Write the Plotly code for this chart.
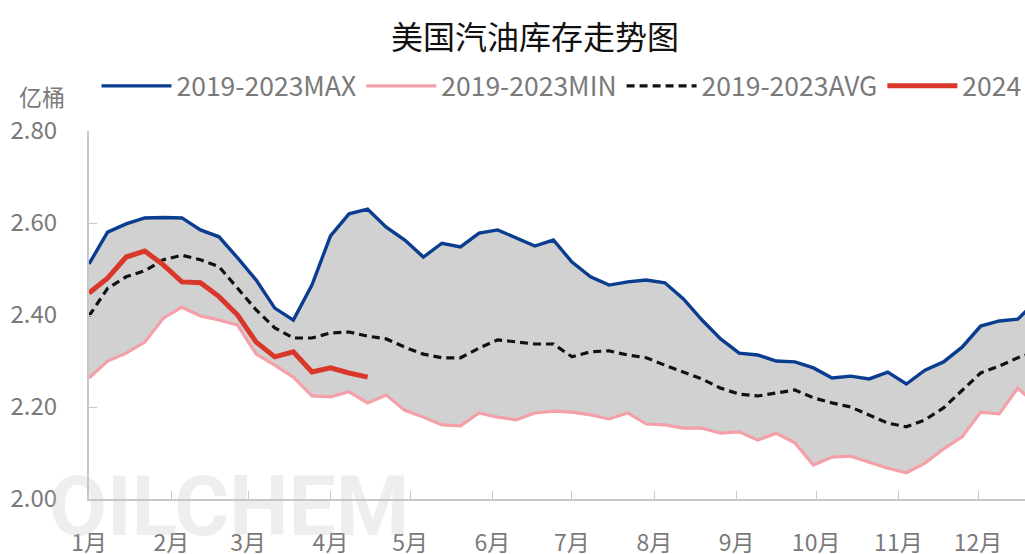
import pandas as pd
import plotly.graph_objects as go

# weekly values, 亿桶
week_start = "2024-01-01"
n_weeks = 52

max_5y = [2.511, 2.580, 2.598, 2.611, 2.612, 2.611, 2.585, 2.570, 2.524, 2.476,
          2.415, 2.389, 2.465, 2.572, 2.620, 2.630, 2.591, 2.563, 2.526, 2.556,
          2.548, 2.578, 2.585, 2.567, 2.550, 2.563, 2.515, 2.483, 2.465, 2.472,
          2.476, 2.470, 2.435, 2.389, 2.348, 2.317, 2.313, 2.300, 2.298, 2.285,
          2.263, 2.267, 2.261, 2.276, 2.250, 2.280, 2.298, 2.330, 2.376, 2.387,
          2.391, 2.430]

min_5y = [2.263, 2.300, 2.317, 2.341, 2.393, 2.417, 2.398, 2.389, 2.378, 2.315,
          2.291, 2.265, 2.224, 2.222, 2.233, 2.209, 2.226, 2.193, 2.178, 2.161,
          2.159, 2.187, 2.178, 2.172, 2.187, 2.191, 2.189, 2.183, 2.174, 2.187,
          2.163, 2.161, 2.154, 2.154, 2.143, 2.146, 2.128, 2.143, 2.122, 2.074,
          2.091, 2.093, 2.080, 2.067, 2.057, 2.078, 2.109, 2.135, 2.189, 2.185,
          2.241, 2.205]

avg_5y = [2.398, 2.458, 2.483, 2.496, 2.520, 2.530, 2.520, 2.505, 2.458, 2.411,
          2.372, 2.350, 2.350, 2.361, 2.363, 2.354, 2.348, 2.330, 2.315, 2.307,
          2.307, 2.328, 2.346, 2.341, 2.337, 2.337, 2.309, 2.320, 2.322, 2.313,
          2.307, 2.291, 2.276, 2.261, 2.241, 2.228, 2.224, 2.230, 2.237, 2.220,
          2.209, 2.200, 2.183, 2.165, 2.157, 2.172, 2.198, 2.237, 2.274, 2.289,
          2.307, 2.320]

y2024 = [2.448, 2.480, 2.526, 2.539, 2.509, 2.472, 2.470, 2.440, 2.400, 2.341,
         2.309, 2.320, 2.276, 2.285, 2.274, 2.265]

month_labels = [f"{m}月" for m in range(1, 13)]
y_ticks = [2.00, 2.20, 2.40, 2.60, 2.80]

weeks = pd.date_range(week_start, periods=n_weeks, freq="7D")
month_starts = pd.date_range(week_start, periods=12, freq="MS")

font_cn = "Noto Sans CJK SC"
grey = "#7a7a7a"
axis_grey = "#c8c8c8"

fig = go.Figure()

fig.add_trace(go.Scatter(
    x=weeks, y=min_5y, mode="lines", name="2019-2023MIN",
    line=dict(color="#f4a0a8", width=3.2), legendrank=2
))
# grey band between min and max (no legend entry)
fig.add_trace(go.Scatter(
    x=weeks, y=max_5y, mode="lines", line=dict(width=0),
    fill="tonexty", fillcolor="#d1d1d1", showlegend=False, hoverinfo="skip"
))
fig.add_trace(go.Scatter(
    x=weeks, y=max_5y, mode="lines", name="2019-2023MAX",
    line=dict(color="#0a3d8f", width=3.4), legendrank=1
))
fig.add_trace(go.Scatter(
    x=weeks, y=avg_5y, mode="lines", name="2019-2023AVG",
    line=dict(color="#111111", width=3.2, dash="8px,5px"), legendrank=3
))
fig.add_trace(go.Scatter(
    x=weeks[:len(y2024)], y=y2024, mode="lines", name="2024",
    line=dict(color="#d9372a", width=5), legendrank=4
))

fig.update_layout(
    width=1025, height=554,
    margin=dict(l=89, r=0, t=131, b=55, autoexpand=False),
    paper_bgcolor="white", plot_bgcolor="white",
    font=dict(family=font_cn, size=24, color=grey),
    showlegend=True,
    legend=dict(orientation="h", x=0.008, xanchor="left", y=1.122,
                yanchor="middle", font=dict(size=26.5, color=grey),
                itemwidth=70, traceorder="normal"),
    xaxis=dict(
        type="date", range=["2024-01-01", "2024-12-18 17:00"],
        tickvals=month_starts, ticktext=month_labels,
        showgrid=False, showline=True, linecolor=axis_grey, linewidth=2,
        ticks="inside", ticklen=8, tickcolor=axis_grey, tickwidth=1,
        ticklabelstandoff=22, zeroline=False, automargin=False,
        tickfont=dict(size=23, color=grey),
    ),
    yaxis=dict(
        range=[2.0, 2.8], tickvals=y_ticks, tickformat=".2f",
        showgrid=False, showline=True, linecolor=axis_grey, linewidth=2,
        ticks="inside", ticklen=8, tickcolor=axis_grey, tickwidth=1,
        ticklabelstandoff=25, zeroline=False, automargin=False,
        tickfont=dict(size=24, color=grey),
    ),
    annotations=[
        dict(text="美国汽油库存走势图", xref="paper", yref="paper",
             x=0.476, y=1.261, xanchor="center", yanchor="middle",
             showarrow=False,
             font=dict(family=font_cn, size=32, color="#111111")),
        dict(text="亿桶", xref="paper", yref="paper", x=-0.050, y=1.095,
             xanchor="center", yanchor="middle", showarrow=False,
             font=dict(family=font_cn, size=23, color=grey)),
        dict(text="<b>OILCHEM</b>", xref="paper", yref="paper", x=-0.045, y=0.12,
             xanchor="left", yanchor="top", showarrow=False,
             font=dict(family="Roboto", size=84, color="rgba(195,195,195,0.28)")),
    ],
)

# drop the default 8px body margin so the chart sits flush with the window
fig.write_html("out.html", config={"displayModeBar": False},
               post_script="document.body.style.margin='0';")
